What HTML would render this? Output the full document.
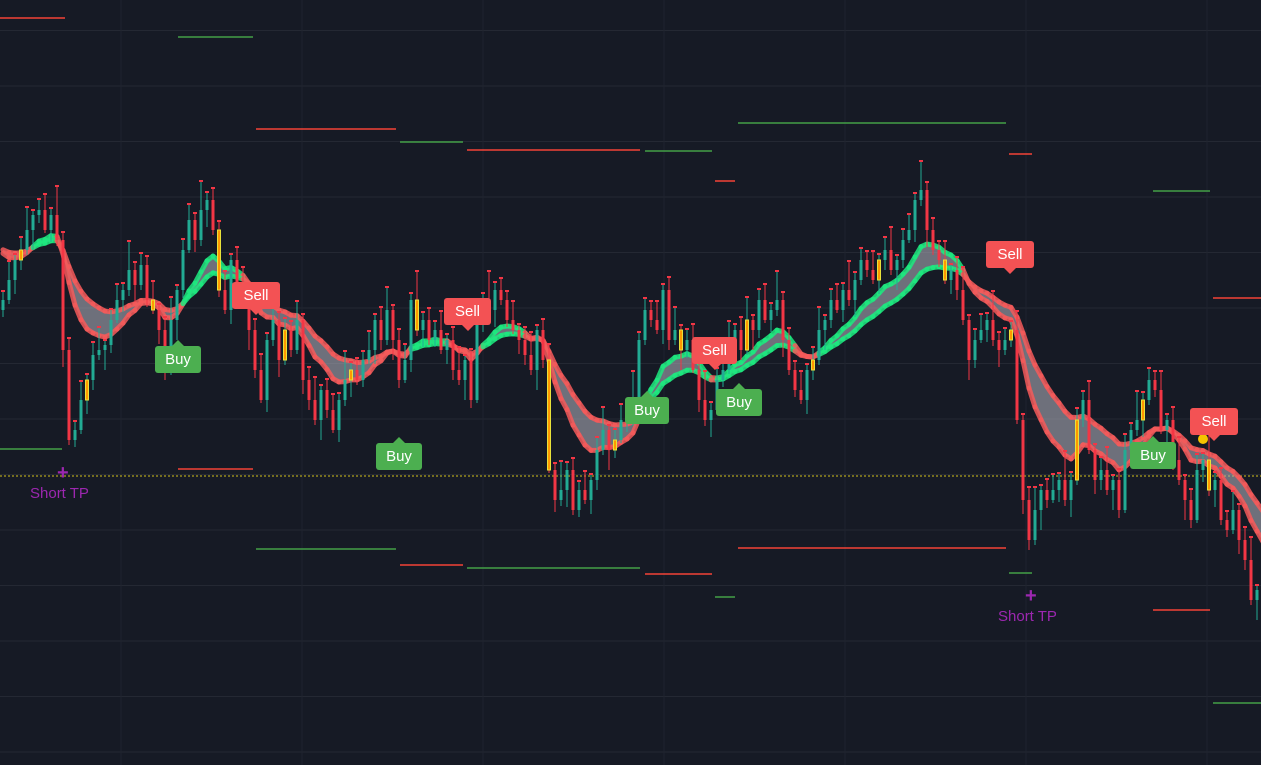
<!DOCTYPE html>
<html><head><meta charset="utf-8">
<style>
html,body{margin:0;padding:0;background:#161a25;overflow:hidden}
#wrap{position:relative;width:1261px;height:765px;font-family:"Liberation Sans","DejaVu Sans",sans-serif}
.lbl{position:absolute;color:#fff;font-size:15px;line-height:27px;height:27px;text-align:center;border-radius:3px}
.buy{background:#4caf50}
.sell{background:#f35254}
.buy:before{content:"";position:absolute;left:50%;top:-6px;margin-left:-6px;border-left:6px solid transparent;border-right:6px solid transparent;border-bottom:6px solid #4caf50}
.sell:after{content:"";position:absolute;left:50%;bottom:-6px;margin-left:-6px;border-left:6px solid transparent;border-right:6px solid transparent;border-top:6px solid #f35254}
.tp{position:absolute;color:#9c27b0;font-size:15px}
.plus{position:absolute;color:#9c27b0;font-size:20px;font-weight:bold;line-height:20px}
</style></head>
<body>
<div id="wrap">
<svg id="chart" width="1261" height="765"></svg>
<div class="lbl buy" style="left:155px;top:346px;width:46px">Buy</div>
<div class="lbl buy" style="left:376px;top:443px;width:46px">Buy</div>
<div class="lbl buy" style="left:625px;top:397px;width:44px">Buy</div>
<div class="lbl buy" style="left:716px;top:389px;width:46px">Buy</div>
<div class="lbl buy" style="left:1130px;top:442px;width:46px">Buy</div>
<div class="lbl sell" style="left:232px;top:282px;width:48px">Sell</div>
<div class="lbl sell" style="left:444px;top:298px;width:47px">Sell</div>
<div class="lbl sell" style="left:692px;top:337px;width:45px">Sell</div>
<div class="lbl sell" style="left:986px;top:241px;width:48px">Sell</div>
<div class="lbl sell" style="left:1190px;top:408px;width:48px">Sell</div>
<div class="plus" style="left:57px;top:463px">+</div>
<div class="tp" style="left:30px;top:485px">Short TP</div>
<div class="plus" style="left:1025px;top:586px">+</div>
<div class="tp" style="left:998px;top:608px">Short TP</div>
</div>
<script>
// closes in price units (price = 765 - pixel at reference scale)
const closesY = [300,280,260,250,230,215,210,230,215,240,350,440,430,400,380,355,350,345,320,300,290,270,285,265,300,310,330,370,320,290,250,220,240,210,200,230,290,310,260,290,300,330,370,400,340,320,360,330,350,320,380,400,420,390,410,430,400,380,370,380,360,350,320,340,310,340,380,360,300,330,320,340,330,350,340,370,380,360,400,320,300,310,290,300,320,330,340,355,370,330,360,470,500,490,470,510,490,500,480,450,430,450,440,420,420,400,340,310,320,330,290,340,330,350,340,370,400,420,410,380,370,340,330,350,320,330,300,320,310,300,340,370,390,400,370,360,330,320,300,310,290,300,280,260,270,280,260,250,270,260,240,230,200,190,230,250,260,280,270,290,320,360,340,330,320,340,350,340,330,420,500,540,510,490,500,490,480,500,480,420,400,450,480,470,490,480,510,450,430,420,400,380,390,430,420,460,480,500,520,470,460,490,480,520,530,510,540,560,600,590,600];
const closes = closesY.map(y => 765 - y);
const wickUp = [8,18,5,12,22,4,10,15,6,28,7,11];
const wickDown = [7,4,14,10,5,20,8,3,12,6,17,5];
const emaSeed = [520];
// support/resistance levels: start x, end x, price
const levelStart = [0,178,256,400,467,645,715,738,1009,1153,1213,0,178,256,400,467,645,715,738,1009,1153,1213];
const levelEnd   = [65,253,396,463,640,712,735,1006,1032,1210,1261,62,253,396,463,640,712,735,1006,1032,1210,1261];
const levelPrice = [747,728,636,623,615,614,584,642,611,574,467,316,296,216,200,197,191,168,217,192,155,62];
const levelType  = [0,1,0,1,0,1,0,1,0,1,0,1,0,1,0,1,0,1,0,1,0,1];
const dottedPrice = 289;

const svg = document.getElementById('chart');
const NS = 'http://www.w3.org/2000/svg';
const W = 1261, H = 765;
const xOf = i => 3 + i * 6;
const yOf = p => H - p;
function mk(tag, attrs){const e=document.createElementNS(NS,tag);for(const k in attrs)e.setAttribute(k,attrs[k]);svg.appendChild(e);return e;}

for (let k = 0; k < 14; k++) {
  const y = 752 - k * 55.5;
  const g = mk('line',{x1:0,x2:W,y1:y,y2:y,stroke:'#242833','stroke-width':1});
  
  
}
for (let k = 0; k < 7; k++) {
  const x = 121 + k * 181;
  const g = mk('line',{x1:x,x2:x,y1:0,y2:H,stroke:'#1f232e','stroke-width':1});
  
  
}

for (let i = 0; i < levelPrice.length; i++) {
  const y = yOf(levelPrice[i]);
  const l = mk('line',{x1:levelStart[i],x2:levelEnd[i],y1:y,y2:y,stroke:levelType[i]?'#43a047':'#f44336','stroke-width':1.5});
  
  
}
const dl = mk('line',{x1:0,x2:W,y1:yOf(dottedPrice),y2:yOf(dottedPrice),stroke:'#d4c21a','stroke-width':1,'stroke-dasharray':'2,2'});



function ema(arr, n, seed){const a=2/(n+1);const out=[];let v=seed;for(let i=0;i<arr.length;i++){v=a*arr[i]+(1-a)*v;out.push(v);}return out;}
const fast = ema(closes, 12, emaSeed[0]), slow = ema(closes, 22, emaSeed[0]);
let d = '';
for (let i = 0; i < closes.length; i++) d += (i?'L':'M') + xOf(i) + ' ' + yOf(fast[i]);
for (let i = closes.length - 1; i >= 0; i--) d += 'L' + xOf(i) + ' ' + yOf(slow[i]);
const band = mk('path',{d:d+'Z',fill:'rgba(170,170,182,0.6)'});


for (const ser of [fast, slow]) {
  for (let i = 1; i < closes.length; i++) {
    const up = fast[i] > slow[i] + 2;
    const col = up ? '#1de97f' : '#f45b5b';
    const s = mk('line',{x1:xOf(i-1),x2:xOf(i),y1:yOf(ser[i-1]),y2:yOf(ser[i]),stroke:col,'stroke-width':5,'stroke-linecap':'round','stroke-opacity':0.85});
    
    
  }
}

for (let i = 0; i < closes.length; i++) {
  const o = i ? closes[i-1] : closes[0] - 10;
  const c = closes[i];
  const hi = Math.max(o, c) + wickUp[i % wickUp.length];
  const lo = Math.min(o, c) - wickDown[i % wickDown.length];
  const bull = c >= o;
  const col = bull ? '#22ab94' : '#f23645';
  const x = xOf(i);
  const w = mk('line',{x1:x,x2:x,y1:yOf(hi),y2:yOf(lo),stroke:col,'stroke-width':1});
  
  
  const top = yOf(Math.max(o,c)), h = Math.max(1, Math.abs(c-o));
  const hl = (i % 11 === 3);
  const b = mk('rect',{x:x-1.5,y:top,width:3,height:h,fill:hl ? '#ff9800' : col, stroke:hl ? '#e8e23a' : 'none','stroke-width':hl?1:0});
  
  
  const t = mk('rect',{x:x-2,y:yOf(hi)-2,width:4,height:2,fill:'#f23645'});
  
  
}
const dot = mk('circle',{cx:1203,cy:439,r:5,fill:'#f5c400'});


</script>
</body></html>
